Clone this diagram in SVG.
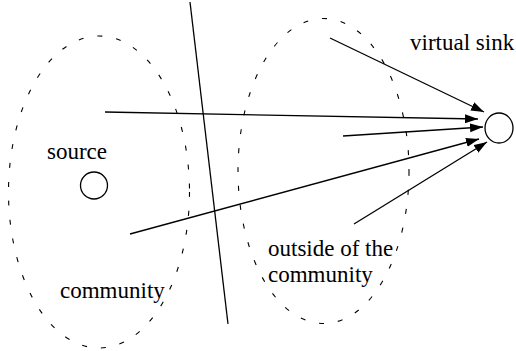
<svg xmlns="http://www.w3.org/2000/svg" width="516" height="351" viewBox="0 0 516 351">
<defs>
<style>
.region{fill:none;stroke:#000;stroke-width:1.1;stroke-dasharray:5 14}
.node{fill:#fff;stroke:#000;stroke-width:1.3}
.conn{stroke:#000;stroke-width:1.3;fill:none}
.arr{marker-end:url(#ah)}
.lbl{font-family:'Times New Roman','Liberation Serif',Tinos,'Nimbus Roman','DejaVu Serif','Noto Serif',serif;font-size:23px;fill:#000}
</style>
<marker id="ah" markerUnits="userSpaceOnUse" markerWidth="14" markerHeight="10" refX="13" refY="4.5" orient="auto">
<path d="M0,0 L13,4.5 L0,9 z" fill="#000"/>
</marker>
</defs>
<rect width="516" height="351" fill="#fff"/>
<g id="community">
<ellipse class="region" cx="99" cy="192" rx="90.5" ry="156"/>
<text class="lbl" x="60" y="298">community</text>
</g>
<g id="outside">
<ellipse class="region" cx="323.5" cy="171" rx="85.5" ry="152.5"/>
<text class="lbl" x="268" y="256">outside of the</text>
<text class="lbl" x="268" y="282">community</text>
</g>
<g id="source">
<circle class="node" cx="94" cy="185.5" r="13.5"/>
<text class="lbl" x="47" y="159">source</text>
</g>
<g id="sink">
<ellipse class="node" cx="499" cy="128" rx="14" ry="15"/>
<text class="lbl" x="410" y="50">virtual sink</text>
</g>
<g id="connectors">
<line class="conn" x1="190" y1="2" x2="228" y2="324"/>
<line class="conn arr" x1="105" y1="112" x2="478" y2="119"/>
<line class="conn arr" x1="343" y1="136" x2="483" y2="127"/>
<line class="conn arr" x1="130" y1="234" x2="479" y2="139"/>
<line class="conn arr" x1="354" y1="224" x2="487" y2="142"/>
<line class="conn arr" x1="330" y1="38" x2="484" y2="112"/>
</g>
</svg>
